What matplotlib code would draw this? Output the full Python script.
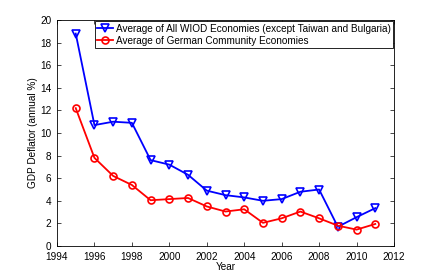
import matplotlib
matplotlib.use("Agg")
import matplotlib.pyplot as plt

years = [1995, 1996, 1997, 1998, 1999, 2000, 2001, 2002, 2003, 2004,
         2005, 2006, 2007, 2008, 2009, 2010, 2011]
wiod_avg = [18.8, 10.7, 11.0, 10.9, 7.6, 7.2, 6.3, 4.9, 4.5, 4.3,
            4.0, 4.15, 4.8, 5.0, 1.7, 2.55, 3.35]
german_avg = [12.2, 7.8, 6.2, 5.4, 4.05, 4.15, 4.25, 3.5, 3.05, 3.25,
              2.05, 2.45, 3.05, 2.45, 1.8, 1.45, 1.95]

plt.rcParams["font.family"] = ["Liberation Sans", "DejaVu Sans"]
plt.rcParams["font.size"] = 7.2

fig = plt.figure(figsize=(4.36, 2.77), dpi=100)
ax = fig.add_axes([57 / 436, 1 - 246 / 277, 337 / 436, 226 / 277])

ax.plot(years, wiod_avg, color="blue", lw=1.3, marker="v", ms=5.5,
        mfc="none", mew=1.2,
        label="Average of All WIOD Economies (except Taiwan and Bulgaria)")
ax.plot(years, german_avg, color="red", lw=1.3, marker="o", ms=5,
        mfc="none", mew=1.2,
        label="Average of German Community Economies")

ax.set_xlim(1994, 2012)
ax.set_ylim(0, 20)
ax.set_xticks(range(1994, 2013, 2))
ax.set_yticks(range(0, 21, 2))
ax.tick_params(direction="in", top=True, right=True, length=3, width=0.5)
ax.tick_params(axis="x", pad=4)
ax.tick_params(axis="y", pad=4)
for s in ax.spines.values():
    s.set_linewidth(0.6)

ax.set_xlabel("Year", labelpad=0)
ax.set_ylabel("GDP Deflator (annual %)", labelpad=1.5)

leg = ax.legend(loc="upper right", fancybox=False, edgecolor="black",
                framealpha=1, borderpad=0.25, labelspacing=0.2,
                handlelength=1.6, handletextpad=0.25, borderaxespad=0.1)
leg.get_frame().set_linewidth(0.6)

fig.savefig("out.png", dpi=100)
